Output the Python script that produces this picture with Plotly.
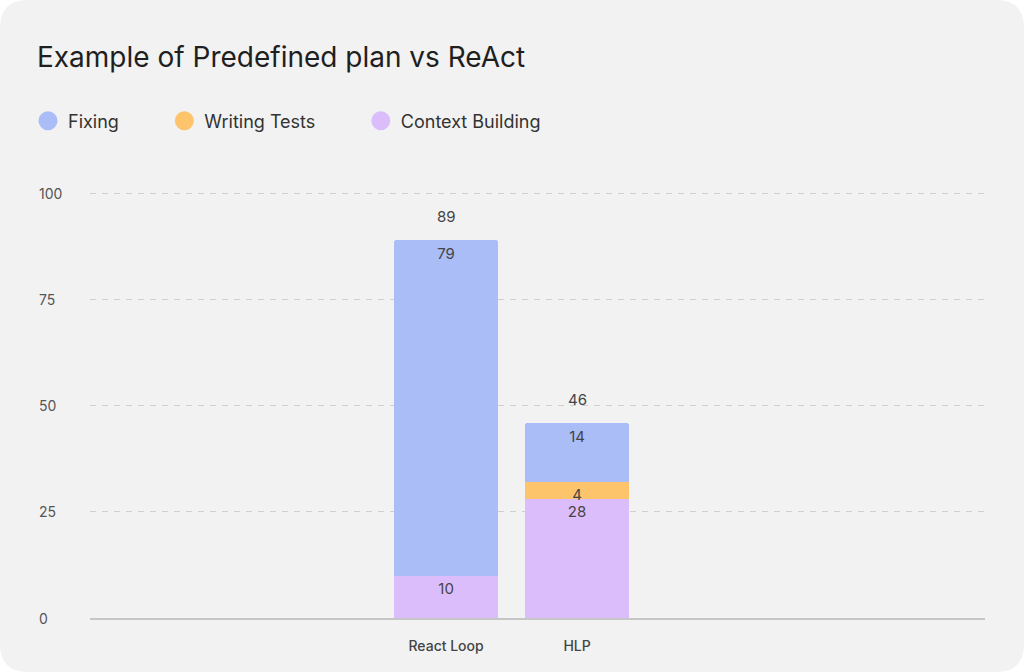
import plotly.graph_objects as go

# Data
categories = ['React Loop', 'HLP']
context_building = [10, 28]
writing_tests = [None, 4]
fixing = [79, 14]
y_ticks = [0, 25, 50, 75, 100]

colors = {
    'Fixing': '#aabdf6',
    'Writing Tests': '#fdc46c',
    'Context Building': '#dcbdfc',
}

W, H = 1024, 672
L, R, T, B = 90, 39, 191, 54
pw, ph = W - L - R, H - T - B
FONT = 'Inter, Roboto, sans-serif'
Y_MAX = 100 * (H - B - T) / (H - B - 193)


def px_x(x):
    return (x - L) / pw


def px_y(y):
    return (H - B - y) / ph


fig = go.Figure()

series = [
    ('Context Building', context_building),
    ('Writing Tests', writing_tests),
    ('Fixing', fixing),
]
for name, vals in series:
    fig.add_trace(go.Bar(
        x=categories,
        y=vals,
        name=name,
        marker=dict(color=colors[name], line=dict(width=0)),
        text=['' if v is None else str(v) for v in vals],
        textposition='inside',
        insidetextanchor='end',
        textangle=0,
        constraintext='none',
        textfont=dict(family=FONT, size=15, color='#444444'),
        showlegend=False,
        hoverinfo='skip',
    ))

# legend entries (circles)
for name in ['Fixing', 'Writing Tests', 'Context Building']:
    fig.add_trace(go.Scatter(
        x=[None], y=[None], mode='markers', name=name + '\u00a0' * 8,
        marker=dict(symbol='circle', size=16, color=colors[name],
                    line=dict(width=3, color=colors[name])),
    ))

# totals above bars
totals = [sum(v for v in col if v is not None)
          for col in zip(context_building, writing_tests, fixing)]
for cat, tot in zip(categories, totals):
    fig.add_annotation(x=cat, y=tot, text=str(tot), showarrow=False,
                       yshift=23, font=dict(family=FONT, size=15, color='#444444'))

# y tick labels left aligned
for t in y_ticks:
    fig.add_annotation(xref='paper', yref='y', x=px_x(37), y=t, text=str(t),
                       xanchor='left', showarrow=False,
                       font=dict(family=FONT, size=14, color='#555555'))

# rounded card background
r = 28
x0, x1 = px_x(0), px_x(W)
y0, y1 = px_y(H), px_y(0)
rx, ry = r / pw, r / ph
path = (f'M {x0 + rx} {y1} L {x1 - rx} {y1} Q {x1} {y1} {x1} {y1 - ry} '
        f'L {x1} {y0 + ry} Q {x1} {y0} {x1 - rx} {y0} '
        f'L {x0 + rx} {y0} Q {x0} {y0} {x0} {y0 + ry} '
        f'L {x0} {y1 - ry} Q {x0} {y1} {x0 + rx} {y1} Z')
fig.add_shape(type='path', path=path, xref='paper', yref='paper',
              fillcolor='#f2f2f2', line=dict(width=0), layer='below')

fig.update_layout(
    width=W, height=H,
    margin=dict(l=L, r=R, t=T, b=B),
    paper_bgcolor='white',
    plot_bgcolor='rgba(0,0,0,0)',
    barmode='stack',
    bargap=0.2,
    barcornerradius=4,
    font=dict(family=FONT, color='#444444'),
    title=dict(text='Example of Predefined plan vs ReAct', xref='container', yref='container',
               x=37 / W, y=1 - 57 / H, xanchor='left', yanchor='middle',
               font=dict(family=FONT, size=28, color='#1f1f1f')),
    legend=dict(orientation='h', xref='container', yref='container',
                x=28 / W, y=1 - 121 / H, xanchor='left', yanchor='middle',
                traceorder='normal',
                font=dict(family=FONT, size=18, color='#333333'),
                bgcolor='rgba(0,0,0,0)', itemclick=False),
    showlegend=True,
)

fig.update_xaxes(
    type='category', range=[-2.718, 4.114],
    showline=True, linecolor='#c6c6c6', linewidth=1.5,
    showgrid=False, ticks='', ticklabelstandoff=14,
    tickfont=dict(family=FONT, size=14, color='#444444', weight=500),
)
fig.update_yaxes(
    range=[0, Y_MAX], tickvals=y_ticks, showticklabels=False,
    showgrid=True, gridcolor='#cfcfcf', griddash='6px,6px', gridwidth=1,
    zeroline=False,
)

fig.write_html('out.html', config={'displayModeBar': False},
               post_script="document.body.style.margin='0';")
